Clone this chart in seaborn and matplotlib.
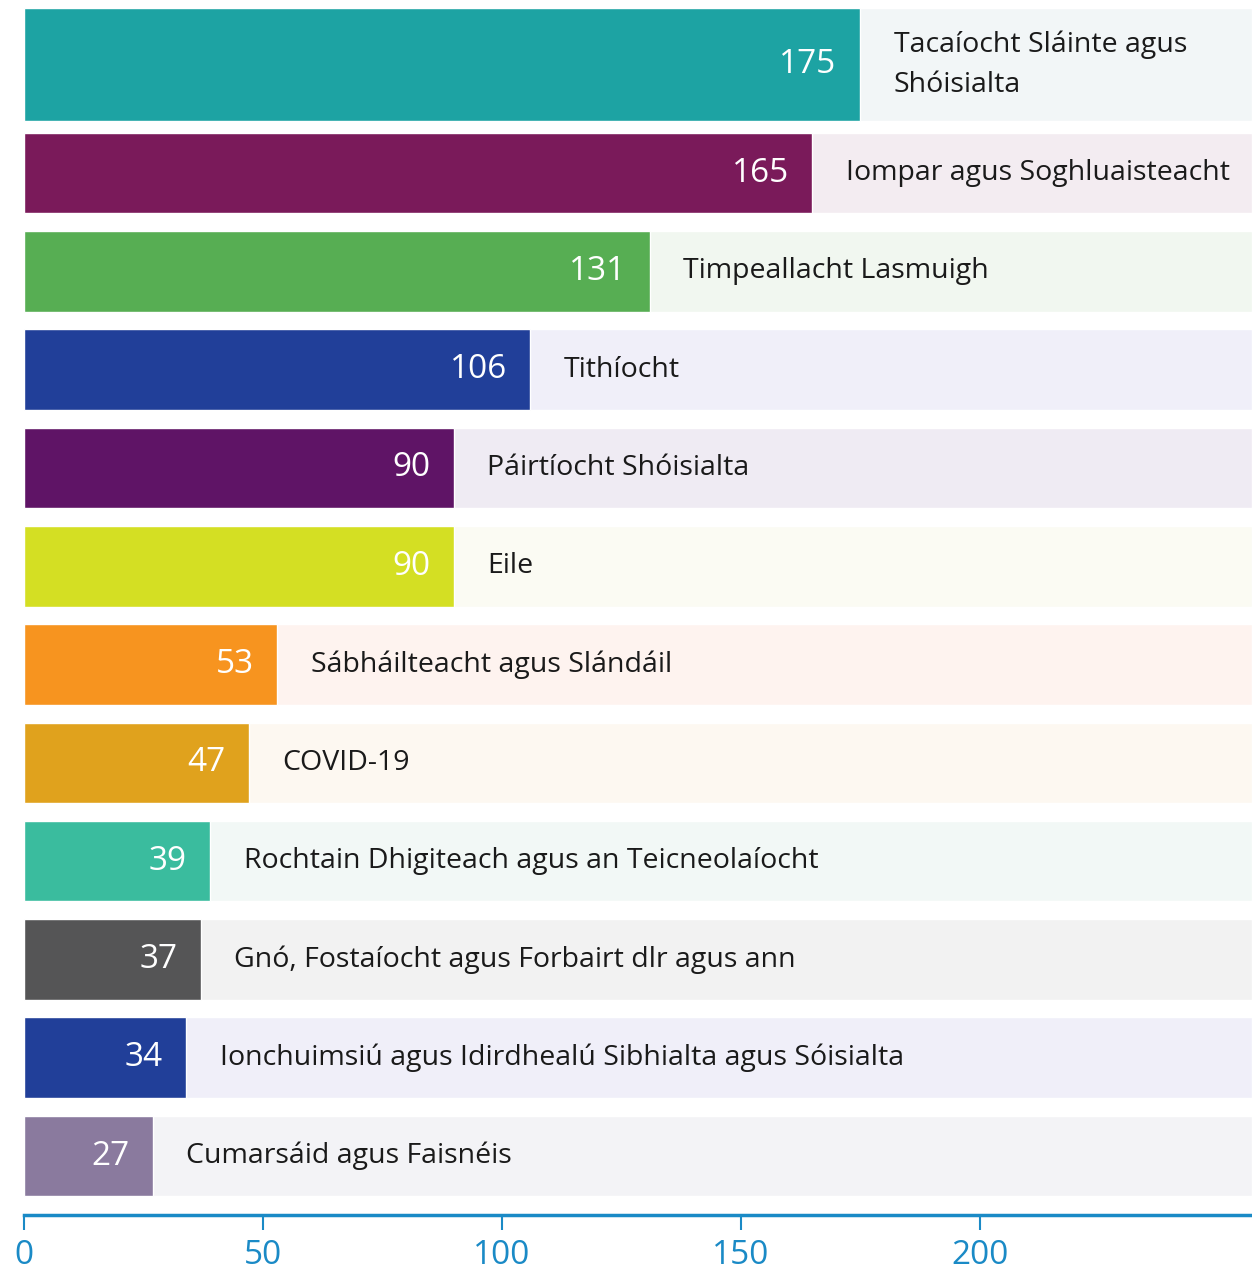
import numpy as np
import pandas as pd
import matplotlib.pyplot as plt
import seaborn as sns

categories = ["Tacaíocht Sláinte agus\nShóisialta", "Iompar agus Soghluaisteacht",
              "Timpeallacht Lasmuigh", "Tithíocht", "Páirtíocht Shóisialta", "Eile",
              "Sábháilteacht agus Slándáil", "COVID-19",
              "Rochtain Dhigiteach agus an Teicneolaíocht",
              "Gnó, Fostaíocht agus Forbairt dlr agus ann",
              "Ionchuimsiú agus Idirdhealú Sibhialta agus Sóisialta",
              "Cumarsáid agus Faisnéis"]
values = [175, 165, 131, 106, 90, 90, 53, 47, 39, 37, 34, 27]
bar_colors = ["#1da3a3", "#7a1a5a", "#57ae53", "#213f99", "#5f1466", "#d4df23",
              "#f7941f", "#e0a21d", "#3abc9e", "#555556", "#213f99", "#8a7a9e"]
bg_colors = ["#f2f6f7", "#f3ecf1", "#f1f7f0", "#f0eff9", "#efebf3", "#fbfbf3",
             "#fef3ef", "#fdf8f1", "#f2f8f6", "#f2f2f2", "#f0eff9", "#f3f3f6"]
ticks = [0, 50, 100, 150, 200]

xmax = 257
axis_blue = "#1a8ac6"
bar_w = 0.82

sns.set_style("white")
plt.rcParams['font.family'] = ['Open Sans', 'DejaVu Sans']

df = pd.DataFrame({"cat": categories, "val": values})

fig = plt.figure(figsize=(12.52, 12.72), dpi=100)
ax = fig.add_axes([24/1252, 57/1272, 1 - 24/1252, 1 - 57/1272])

# background bands
sns.barplot(data=df.assign(bg=xmax), x="bg", y="cat", hue="cat", palette=bg_colors,
            legend=False, width=bar_w, orient="h", ax=ax, saturation=1)
# value bars
sns.barplot(data=df, x="val", y="cat", hue="cat", palette=bar_colors,
            legend=False, width=bar_w, orient="h", ax=ax, saturation=1)

# first row is taller (two-line label)
for p in ax.patches:
    if abs(p.get_y() + p.get_height() / 2) < 1e-6:
        p.set_y(p.get_y() - 0.27)
        p.set_height(p.get_height() + 0.33)

for i, (c, v) in enumerate(zip(categories, values)):
    yc = i - 0.1 if i == 0 else i
    ax.annotate(str(v), (v, yc), xytext=(-17, 0), textcoords="offset points",
                ha="right", va="center", color="white", fontsize=24, fontweight=500)
    ax.annotate(c, (v, yc), xytext=(24, 0), textcoords="offset points",
                ha="left", va="center", color="#1a1a1a", fontsize=20.5,
                linespacing=1.6)

ax.set_xlim(0, xmax)
ax.set_ylim(11.6, -0.76)
ax.set_xlabel("")
ax.set_ylabel("")
ax.set_yticks([])
ax.set_xticks(ticks)
ax.set_xticklabels([str(t) for t in ticks])
ax.tick_params(axis="x", colors=axis_blue, length=11, width=1.5, direction="out",
               labelsize=24, pad=6, bottom=True)
for s in ["top", "right", "left"]:
    ax.spines[s].set_visible(False)
ax.spines["bottom"].set_color(axis_blue)
ax.spines["bottom"].set_linewidth(2.5)

plt.savefig("out.png", dpi=100)
